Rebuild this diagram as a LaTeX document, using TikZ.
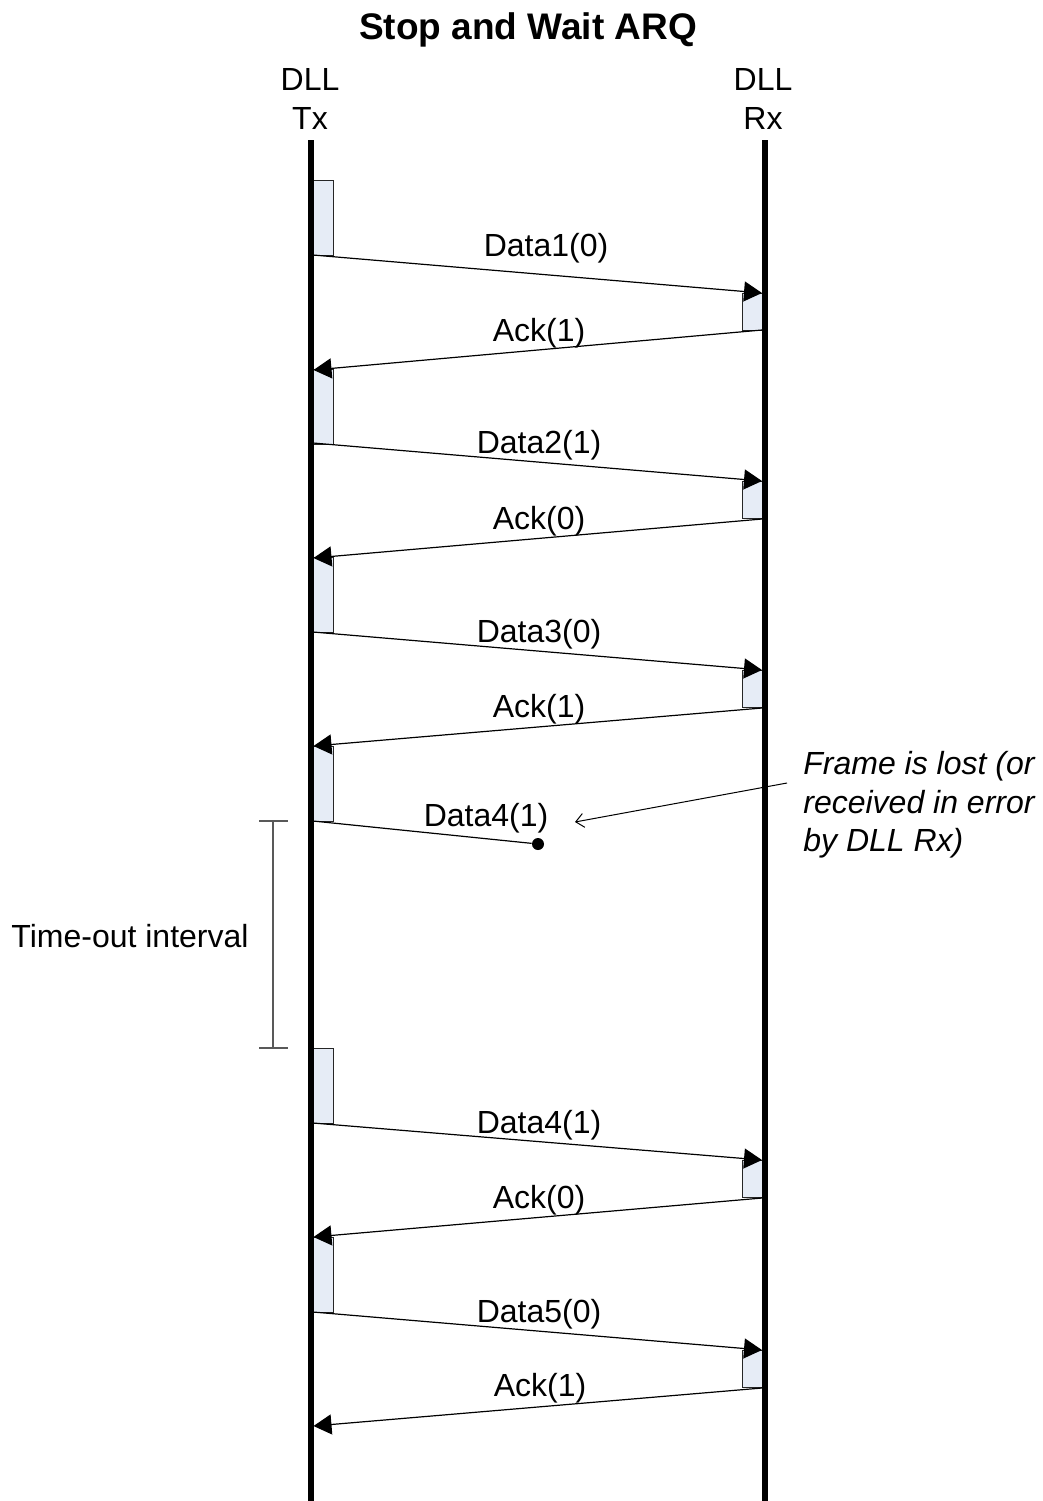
\documentclass[tikz,border=0pt]{standalone}
\usepackage{fontspec}
\setmainfont{Liberation Sans}
\usetikzlibrary{arrows.meta}
\definecolor{boxfill}{HTML}{E6ECF6}
\begin{document}
\begin{tikzpicture}[x=0.5pt,y=-0.5pt,
  lifeline/.style={line width=2.6pt},
  actbox/.style={draw=black!85, fill=boxfill, line width=0.65pt, minimum width=11pt, inner sep=0pt},
  txact/.style={actbox, minimum height=37.5pt, anchor=north west},
  rxact/.style={actbox, minimum height=18.5pt, anchor=north east},
  msg/.style={line width=0.6pt, -{Triangle[length=9pt,width=10pt]}},
  lbl/.style={font=\fontsize{16}{19.5}\selectfont, inner sep=0pt},
  notearrow/.style={line width=0.5pt, -{Straight Barb[length=4pt,width=7pt]}},
  bracket/.style={draw=black!65, line width=0.7pt}]
\useasboundingbox (0,0) rectangle (1043,1501);

% title and headers
\node[font=\fontsize{18.5}{22}\selectfont\bfseries, inner sep=0pt] (title) at (528,30) {Stop and Wait ARQ};
\node[lbl, align=center] (txhead) at (310,99) {DLL\\Tx};
\node[lbl, align=center] (rxhead) at (763,99) {DLL\\Rx};

% activation boxes Tx
\node[txact] (tb1) at (311,180) {};
\node[txact] (tb2) at (311,369) {};
\node[txact] (tb3) at (311,557) {};
\node[txact] (tb4) at (311,746) {};
\node[txact] (tb5) at (311,1048) {};
\node[txact] (tb6) at (311,1237) {};

% activation boxes Rx
\node[rxact] (rb1) at (765,293) {};
\node[rxact] (rb2) at (765,481) {};
\node[rxact] (rb3) at (765,670) {};
\node[rxact] (rb5) at (765,1160) {};
\node[rxact] (rb6) at (765,1350) {};

% lifelines
\coordinate (txtop) at (311,140);
\coordinate (txbot) at (311,1501);
\coordinate (rxtop) at (765,140);
\coordinate (rxbot) at (765,1501);
\draw[lifeline] (txtop) -- (txbot);
\draw[lifeline] (rxtop) -- (rxbot);

% message end points
\coordinate (d1s) at (313,255);  \coordinate (d1e) at (762,293);
\coordinate (a1s) at (762,330);  \coordinate (a1e) at (313.5,370);
\coordinate (d2s) at (313,443);  \coordinate (d2e) at (762,481);
\coordinate (a2s) at (762,519);  \coordinate (a2e) at (313.5,558);
\coordinate (d3s) at (313,632);  \coordinate (d3e) at (762,670);
\coordinate (a3s) at (762,708);  \coordinate (a3e) at (313.5,746);
\coordinate (d4s) at (313,821);
\node[circle, fill=black, inner sep=0pt, minimum size=6pt] (lost) at (538,844) {};
\coordinate (d5s) at (313,1123); \coordinate (d5e) at (762,1160);
\coordinate (a5s) at (762,1198); \coordinate (a5e) at (313.5,1237);
\coordinate (d6s) at (313,1312); \coordinate (d6e) at (762,1350);
\coordinate (a6s) at (762,1388); \coordinate (a6e) at (313.5,1426);

% messages
\draw[msg] (d1s) -- (d1e);
\draw[msg] (a1s) -- (a1e);
\draw[msg] (d2s) -- (d2e);
\draw[msg] (a2s) -- (a2e);
\draw[msg] (d3s) -- (d3e);
\draw[msg] (a3s) -- (a3e);
\draw[line width=0.6pt] (d4s) -- (lost);
\draw[msg] (d5s) -- (d5e);
\draw[msg] (a5s) -- (a5e);
\draw[msg] (d6s) -- (d6e);
\draw[msg] (a6s) -- (a6e);

% labels
\node[lbl] (l1) at (546,248) {Data1(0)};
\node[lbl] (l2) at (539,333) {Ack(1)};
\node[lbl] (l3) at (539,445) {Data2(1)};
\node[lbl] (l4) at (539,521) {Ack(0)};
\node[lbl] (l5) at (539,634) {Data3(0)};
\node[lbl] (l6) at (539,709) {Ack(1)};
\node[lbl] (l7) at (486,818) {Data4(1)};
\node[lbl] (l8) at (539,1125) {Data4(1)};
\node[lbl] (l9) at (539,1200) {Ack(0)};
\node[lbl] (l10) at (539,1314) {Data5(0)};
\node[lbl] (l11) at (540,1388) {Ack(1)};

% note
\node[lbl, font=\fontsize{16}{19.25}\selectfont\itshape, align=left, anchor=west] (note) at (803,805) {Frame is lost (or\\received in error\\by DLL Rx)};
\coordinate (nstart) at (787,783);
\coordinate (nend) at (575,822);
\draw[notearrow] (nstart) -- (nend);

% time-out bracket
\coordinate (bt) at (273,821);
\coordinate (bb) at (273,1048);
\coordinate (btl) at (259,821); \coordinate (btr) at (288,821);
\coordinate (bbl) at (259,1048); \coordinate (bbr) at (288,1048);
\draw[bracket] (bt) -- (bb);
\draw[bracket] (btl) -- (btr);
\draw[bracket] (bbl) -- (bbr);
\node[lbl] (timeout) at (130,936) {Time-out interval};
\end{tikzpicture}
\end{document}
